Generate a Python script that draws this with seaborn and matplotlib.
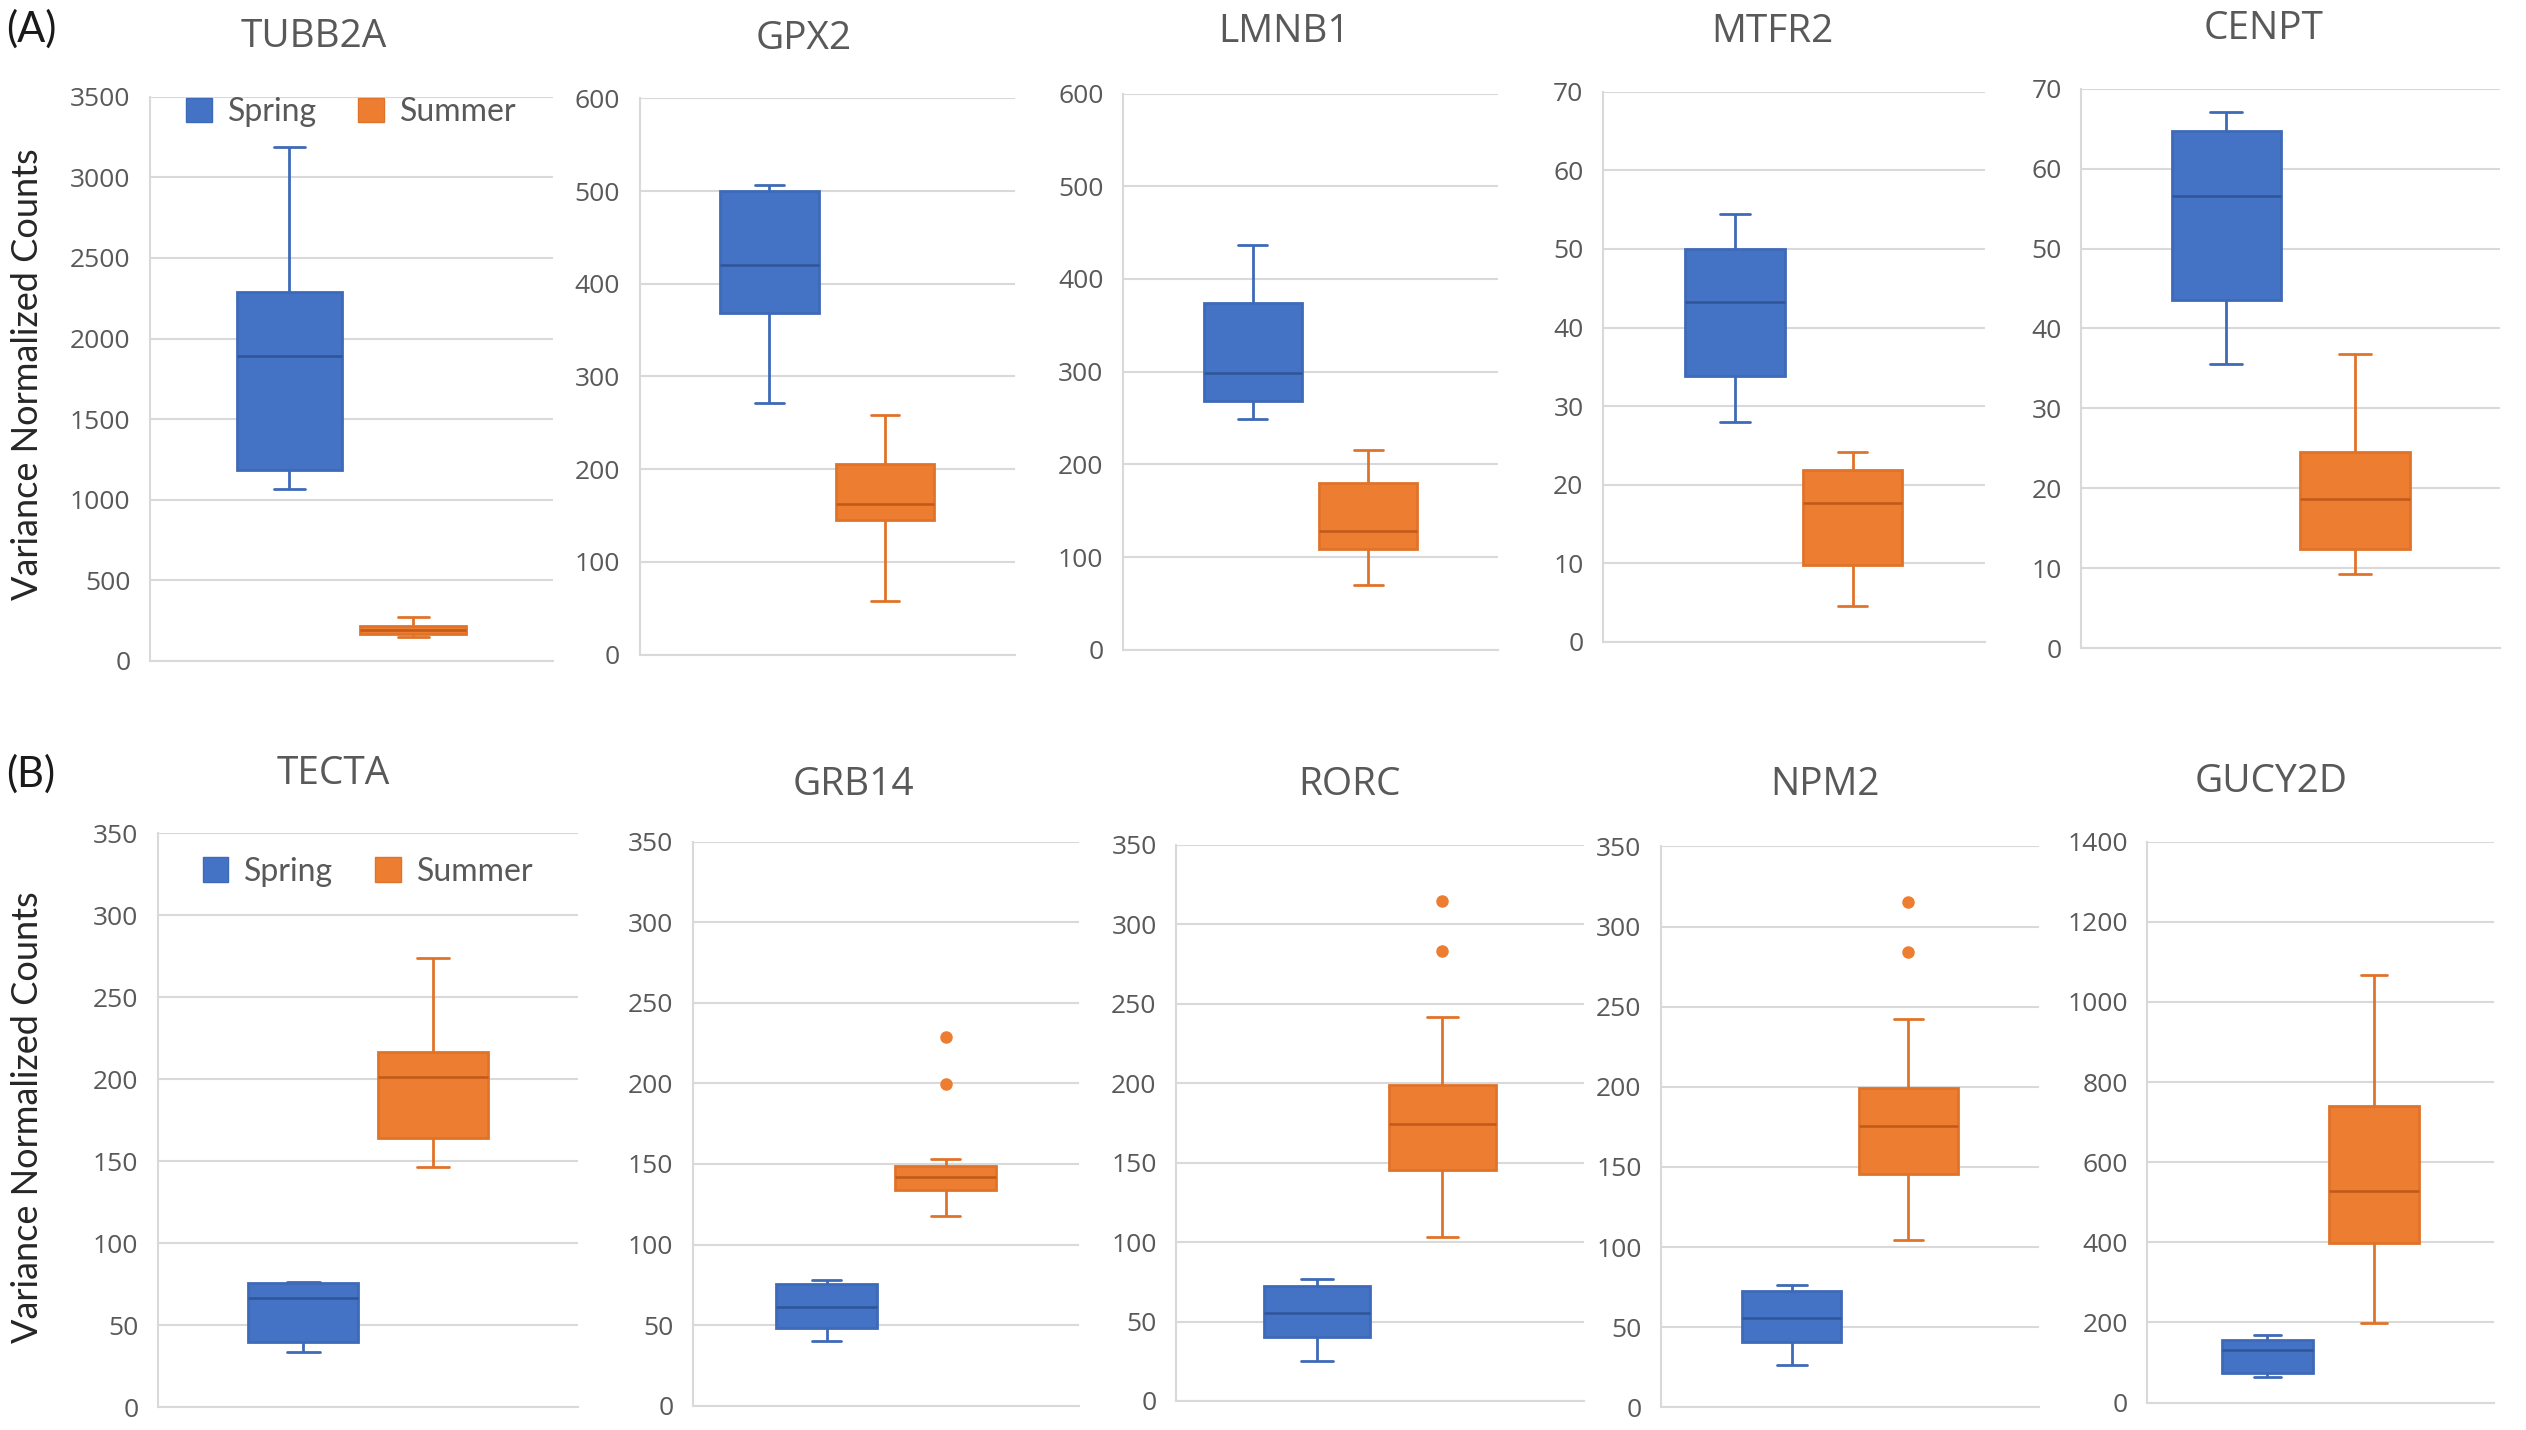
import numpy as np
import pandas as pd
import matplotlib
matplotlib.use("Agg")
import matplotlib.pyplot as plt
import seaborn as sns
from matplotlib.patches import Patch

sns.set_theme(style="white")
plt.rcParams['font.family'] = ['Open Sans', 'DejaVu Sans']

# ---------------- data ----------------
seasons = ["Spring", "Summer"]

genes_a = ["TUBB2A", "GPX2", "LMNB1", "MTFR2", "CENPT"]
genes_b = ["TECTA", "GRB14", "RORC", "NPM2", "GUCY2D"]

tubb2a_spring = [1067, 1186, 1893, 2287, 3190]
tubb2a_summer = [148, 165, 190, 215, 270]
gpx2_spring = [271, 368, 420, 500, 507]
gpx2_summer = [58, 145, 162, 206, 258]
lmnb1_spring = [249, 268, 299, 374, 437]
lmnb1_summer = [70, 109, 128, 180, 215]
mtfr2_spring = [28.0, 33.8, 43.3, 50.0, 54.4]
mtfr2_summer = [4.6, 9.8, 17.6, 21.8, 24.1]
cenpt_spring = [35.6, 43.5, 56.6, 64.7, 67.1]
cenpt_summer = [9.3, 12.4, 18.6, 24.5, 36.8]

tecta_spring = [34.0, 39.7, 67.0, 75.8, 76.3]
tecta_summer = [146.4, 164.6, 201.5, 216.5, 274.0]
grb14_spring = [40.3, 48.0, 61.4, 75.8, 77.8]
grb14_summer = [117.5, 124, 130, 134, 137, 140, 141.7, 144, 147, 149, 153, 199.4, 228.6]
rorc_spring = [25.3, 40.0, 55.4, 72.5, 76.5]
rorc_summer = [103.4, 120, 135, 145.3, 155, 165, 174.5, 182, 190, 199, 241.7, 283.3, 314.8]
npm2_spring = [26.3, 40.8, 56.0, 72.7, 76.3]
npm2_summer = [104.3, 121, 136, 145.6, 156, 166, 175.3, 183, 191, 199, 242.4, 284.0, 315.3]
gucy2d_spring = [63.6, 73.7, 130.6, 155.0, 169.7]
gucy2d_summer = [198.8, 397.5, 529.0, 739.0, 1066.0]

ymax_a = [3500, 600, 600, 70, 70]
ystep_a = [500, 100, 100, 10, 10]
ymax_b = [350, 350, 350, 350, 1400]
ystep_b = [50, 50, 50, 50, 200]

spring_a = [tubb2a_spring, gpx2_spring, lmnb1_spring, mtfr2_spring, cenpt_spring]
summer_a = [tubb2a_summer, gpx2_summer, lmnb1_summer, mtfr2_summer, cenpt_summer]
spring_b = [tecta_spring, grb14_spring, rorc_spring, npm2_spring, gucy2d_spring]
summer_b = [tecta_summer, grb14_summer, rorc_summer, npm2_summer, gucy2d_summer]

# ---------------- style ----------------
fill = {"Spring": "#4472C4", "Summer": "#ED7D31"}
edge = {"Spring": "#3F6AB8", "Summer": "#E0732A"}
median_c = {"Spring": "#2F5597", "Summer": "#C0591A"}
grid_c = "#D9D9D9"
text_c = "#595959"

W, H = 1568.0, 887.0  # layout measured on a 1568x887 view
rects_a = [(93, 343, 60, 410), (397, 630, 61, 406), (697, 930, 58, 403),
           (995, 1232, 57, 398), (1292, 1552, 55, 402)]
rects_b = [(98, 359, 517, 873), (430, 670, 522, 872), (730, 983, 524, 869),
           (1031, 1266, 525, 873), (1333, 1548, 522, 870)]
titles_pos_a = [(195, 23), (499, 24), (797, 20), (1100, 20), (1405, 18)]
titles_pos_b = [(207, 480), (530, 487), (838, 487), (1133, 487), (1410, 485)]

fig = plt.figure(figsize=(25.26, 14.30), dpi=100)


def make_frame(spring, summer):
    return pd.DataFrame({
        "gene": ["g"] * (len(spring) + len(summer)),
        "season": ["Spring"] * len(spring) + ["Summer"] * len(summer),
        "value": list(spring) + list(summer),
    })


def draw_panel(rect, gene, spring, summer, ymax, ystep, title_xy, legend_y=None):
    l, r, t, b = rect
    ax = fig.add_axes([l / W, 1 - b / H, (r - l) / W, (b - t) / H])
    df = make_frame(spring, summer)
    for s in seasons:
        sns.boxplot(data=df[df["season"] == s], x="gene", y="value", hue="season",
                    hue_order=seasons, palette=fill, saturation=1, dodge=True,
                    width=0.8, gap=0.15,
                    linecolor=edge[s], linewidth=2.0, legend=False, ax=ax,
                    medianprops={"color": median_c[s], "linewidth": 1.8},
                    whiskerprops={"color": edge[s], "linewidth": 2.0},
                    capprops={"color": edge[s], "linewidth": 2.0},
                    flierprops={"marker": "o", "markerfacecolor": fill[s],
                                "markeredgecolor": fill[s], "markersize": 8},
                    capwidths=0.1)
    ax.set_xlim(-0.65, 0.65)
    ax.set_ylim(0, ymax)
    ax.set_yticks(np.arange(0, ymax + ystep / 2, ystep))
    ax.set_xticks([])
    ax.set_xlabel("")
    ax.set_ylabel("")
    ax.yaxis.grid(True, color=grid_c, linewidth=1.5)
    ax.set_axisbelow(True)
    for side in ["top", "right"]:
        ax.spines[side].set_visible(False)
    for side in ["left", "bottom"]:
        ax.spines[side].set_color(grid_c)
        ax.spines[side].set_linewidth(1.5)
    ax.tick_params(axis="y", length=0, pad=14, labelsize=19, labelcolor=text_c)
    fig.text(title_xy[0] / W, 1 - title_xy[1] / H, gene, ha="center", va="center",
             fontsize=28, color=text_c)
    if legend_y is not None:
        handles = [Patch(facecolor=fill[s], edgecolor=edge[s]) for s in seasons]
        leg = ax.legend(handles, seasons, loc="upper center", bbox_to_anchor=(0.5, legend_y),
                        ncol=2, frameon=False, handlelength=0.8, handleheight=0.8,
                        handletextpad=0.5, columnspacing=1.3,
                        prop={"family": ["Lato", "DejaVu Sans"], "size": 23})
        for tx in leg.get_texts():
            tx.set_color(text_c)
    return ax


for i, g in enumerate(genes_a):
    draw_panel(rects_a[i], g, spring_a[i], summer_a[i], ymax_a[i], ystep_a[i],
               titles_pos_a[i], legend_y=1.05 if i == 0 else None)
for i, g in enumerate(genes_b):
    draw_panel(rects_b[i], g, spring_b[i], summer_b[i], ymax_b[i], ystep_b[i],
               titles_pos_b[i], legend_y=1.01 if i == 0 else None)

ylab_kw = dict(rotation=90, ha="center", va="center", fontsize=26, color="#262626",
               family=["Lato", "DejaVu Sans"])
fig.text(17 / W, 1 - 232 / H, "Variance Normalized Counts", **ylab_kw)
fig.text(17 / W, 1 - 693 / H, "Variance Normalized Counts", **ylab_kw)

fig.text(4 / W, 1 - 18 / H, "(A)", ha="left", va="center", fontsize=30, color="#1a1a1a",
         family=["Lato", "DejaVu Sans"])
fig.text(4 / W, 1 - 480 / H, "(B)", ha="left", va="center", fontsize=30, color="#1a1a1a",
         family=["Lato", "DejaVu Sans"])

fig.savefig("out.png", dpi=100, facecolor="white")
